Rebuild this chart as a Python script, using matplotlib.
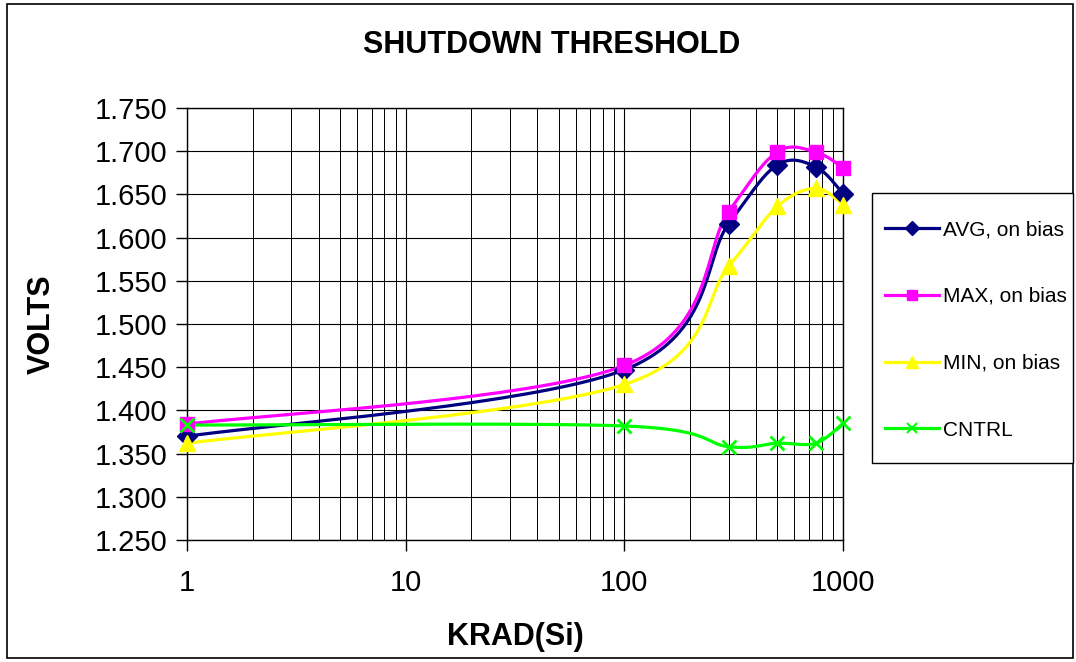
import numpy as np
import matplotlib
matplotlib.use("Agg")
import matplotlib.pyplot as plt
from matplotlib.lines import Line2D
from matplotlib.patches import Rectangle
from matplotlib.ticker import FixedLocator, NullFormatter, LogLocator

plt.rcParams['font.family'] = ['Liberation Sans', 'DejaVu Sans']

krad = [1, 100, 300, 500, 750, 1000]
avg_bias = [1.370, 1.447, 1.616, 1.684, 1.682, 1.651]
max_bias = [1.384, 1.452, 1.630, 1.699, 1.699, 1.681]
min_bias = [1.362, 1.430, 1.567, 1.636, 1.657, 1.638]
cntrl = [1.383, 1.382, 1.358, 1.362, 1.362, 1.385]

series_names = ["AVG, on bias", "MAX, on bias", "MIN, on bias", "CNTRL"]
series_vals = [avg_bias, max_bias, min_bias, cntrl]
colors = ["#000080", "#FF00FF", "#FFFF00", "#00FF00"]
markers = ["D", "s", "^", "x"]
msizes = [10, 10, 11, 10]

yticks = [1.250, 1.300, 1.350, 1.400, 1.450, 1.500, 1.550, 1.600, 1.650, 1.700, 1.750]
xticks = [1, 10, 100, 1000]
xticklabels = ["1", "10", "100", "1000"]

fig = plt.figure(figsize=(10.76, 6.62), dpi=100)
fig.patches.append(Rectangle((7/1076, 4/662), 1066/1076, 654/662, transform=fig.transFigure,
                             fill=False, edgecolor='black', linewidth=1.2))
# legend box
fig.patches.append(Rectangle((872/1076, 1-463/662), (1073-872)/1076, (463-193)/662,
                             transform=fig.transFigure, fill=True, facecolor='white',
                             edgecolor='black', linewidth=1.0))
ax = fig.add_axes([187/1076, 1-540/662, (843-187)/1076, (540-108)/662])
ax.set_xscale('log')
ax.set_xlim(1, 1000)
ax.set_ylim(1.25, 1.75)
fig.canvas.draw()


def smooth(xs, ys, n=40):
    # Excel-like smoothing: Catmull-Rom Bezier in display space
    pts = ax.transData.transform(np.column_stack([xs, ys]))
    P = np.vstack([pts[0], pts, pts[-1]])
    out = []
    for i in range(1, len(P) - 2):
        p0, p1, p2, p3 = P[i - 1], P[i], P[i + 1], P[i + 2]
        c1 = p1 + (p2 - p0) / 6.0
        c2 = p2 - (p3 - p1) / 6.0
        t = np.linspace(0, 1, n)[:, None]
        seg = ((1 - t) ** 3) * p1 + 3 * ((1 - t) ** 2) * t * c1 + 3 * (1 - t) * t ** 2 * c2 + t ** 3 * p2
        out.append(seg if i == 1 else seg[1:])
    out = np.vstack(out)
    d = ax.transData.inverted().transform(out)
    return d[:, 0], d[:, 1]


handles = []
for name, vals, c, m, ms in zip(series_names, series_vals, colors, markers, msizes):
    sx, sy = smooth(krad, vals)
    ax.plot(sx, sy, color=c, linewidth=2.3, zorder=3, clip_on=False)
    ax.plot(krad, vals, linestyle='none', marker=m, color=c, markersize=ms,
            markeredgewidth=2 if m == 'x' else 1, zorder=4, clip_on=False)
    handles.append(Line2D([], [], color=c, linewidth=2.3, marker=m, markersize=ms * 0.75,
                          markeredgewidth=1.5 if m == 'x' else 1, label=name))

ax.xaxis.set_major_locator(FixedLocator(xticks))
ax.set_xticklabels(xticklabels)
ax.xaxis.set_minor_locator(LogLocator(base=10, subs=np.arange(2, 10)))
ax.xaxis.set_minor_formatter(NullFormatter())
ax.set_yticks(yticks)
ax.set_yticklabels([f"{v:.3f}" for v in yticks])
ax.grid(True, which='major', color='black', linewidth=0.8)
ax.grid(True, which='minor', axis='x', color='black', linewidth=0.7)
ax.set_axisbelow(True)
ax.tick_params(axis='both', which='major', direction='out', length=8, width=1,
               labelsize=21, colors='black', pad=6)
ax.tick_params(axis='x', which='minor', length=0)
ax.tick_params(axis='x', which='major', pad=13)
for s in ax.spines.values():
    s.set_color('black')
    s.set_linewidth(1.0)

ax.set_xlabel("KRAD(Si)", fontsize=22, fontweight='bold', labelpad=18)
ax.set_ylabel("VOLTS", fontsize=22, fontweight='bold')
ax.yaxis.set_label_coords((57 - 187) / 656, 0.5)
fig.text(552/1076, 1-45/662, "SHUTDOWN THRESHOLD", fontsize=22, fontweight='bold',
         ha='center', va='center')

leg = fig.legend(handles=handles, loc='upper left', bbox_to_anchor=(885/1076, 1-220/662),
                 frameon=False, fontsize=15, labelspacing=2.3,
                 handlelength=2.6, handletextpad=0.2, borderpad=0, borderaxespad=0)

fig.savefig("out.png", dpi=100)
